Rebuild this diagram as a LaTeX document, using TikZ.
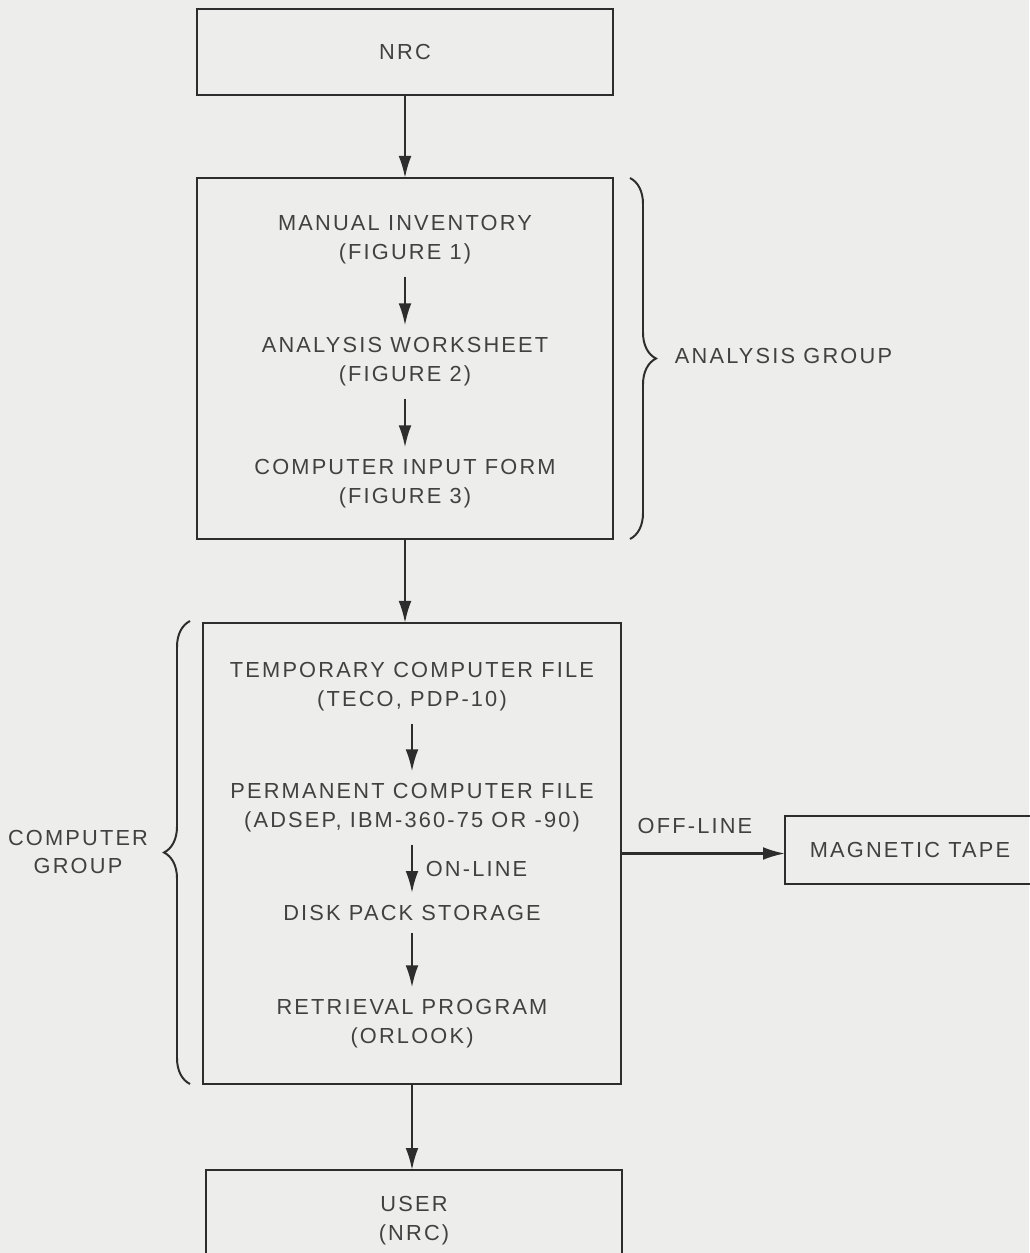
\documentclass[tikz,border=0pt]{standalone}
\usepackage{fontspec}
\setmainfont{Liberation Sans}[LetterSpace=10]
\usepackage{xcolor}
\usepackage{tikz}
\usetikzlibrary{arrows.meta,positioning,calc,decorations.pathreplacing}
\definecolor{bgpaper}{RGB}{237,237,235}
\definecolor{inkline}{RGB}{45,45,45}
\definecolor{inktext}{RGB}{65,65,65}

\begin{document}
\begin{tikzpicture}[x=0.25mm,y=-0.25mm,
    every node/.style={font=\fontsize{15.5}{20.6}\selectfont, text=inktext},
    box/.style={draw=inkline, line width=1.6pt, inner sep=0pt, outer sep=0pt},
    stage/.style={align=center, inner sep=3mm},
    flow/.style={draw=inkline, line width=1.6pt, -{Latex[length=5.5mm,width=3.2mm]}},
    grpbrace/.style={draw=inkline, line width=1.4pt, decorate, decoration={brace, amplitude=6.5mm}}]
    % Paper
    \fill[bgpaper] (0,0) rectangle (1029,1253);
    \useasboundingbox (0,0) rectangle (1029,1253);

    % Boxes
    \node[box, minimum width=104mm, minimum height=21.5mm] (nrc) at (405,52) {NRC};
    \node[box, minimum width=104mm, minimum height=90.25mm] (anabox) at (405,358.5) {};
    \node[box, minimum width=104.5mm, minimum height=115.25mm] (compbox) at (412,853.5) {};
    \node[box, minimum width=104mm, minimum height=25.5mm, align=center] (user) at (414,1221) {USER\\(NRC)};
    \node[box, minimum width=62.5mm, minimum height=17mm] (tape) at (910,850) {MAGNETIC TAPE};

    % Analysis steps
    \node[stage] (inv) at (405,240) {MANUAL INVENTORY\\(FIGURE 1)};
    \node[stage] (work) at (405,362) {ANALYSIS WORKSHEET\\(FIGURE 2)};
    \node[stage] (form) at (405,484) {COMPUTER INPUT FORM\\(FIGURE 3)};

    % Computer steps
    \node[stage] (temp) at (412,687) {TEMPORARY COMPUTER FILE\\(TECO, PDP-10)};
    \node[stage] (perm) at (412,808) {PERMANENT COMPUTER FILE\\(ADSEP, IBM-360-75 OR -90)};
    \node[stage] (disk) at (412,913) {DISK PACK STORAGE};
    \node[stage] (retr) at (412,1024) {RETRIEVAL PROGRAM\\(ORLOOK)};

    % Arrows
    \draw[flow] (nrc) -- (anabox);
    \draw[flow] (anabox.south) -- (anabox.south |- compbox.north);
    \draw[flow] (compbox.south) -- (compbox.south |- user.north);
    \draw[flow] (compbox.east) -- (compbox.east -| tape.west)
        node[midway, above=3.5mm, xshift=-2mm] {OFF-LINE};
    \draw[flow] (inv) -- (work);
    \draw[flow] (work) -- (form);
    \draw[flow] (temp) -- (perm);
    \draw[flow] (perm) -- (disk) node[midway, right=2mm] {ON-LINE};
    \draw[flow] (disk) -- (retr);

    % Groups
    \coordinate (anatop) at (630,178);
    \coordinate (anabot) at (630,539);
    \coordinate (comptop) at (190,621);
    \coordinate (compbot) at (190,1084);
    \draw[grpbrace] (anatop) -- (anabot);
    \draw[grpbrace] (compbot) -- (comptop);
    \node[anchor=west] (anagrp) at (670,356) {ANALYSIS GROUP};
    \node[align=center] (compgrp) at (78,852) {COMPUTER\\GROUP};
\end{tikzpicture}
\end{document}
